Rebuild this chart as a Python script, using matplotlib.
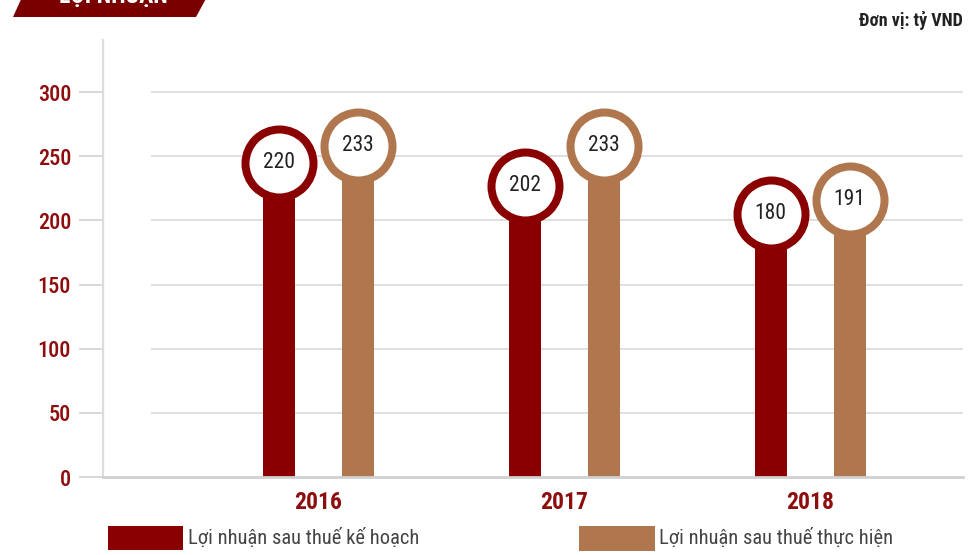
import matplotlib
matplotlib.use("Agg")
import matplotlib.pyplot as plt
from matplotlib.patches import Polygon, Rectangle
import numpy as np

# ---- data ----
years = ["2016", "2017", "2018"]
plan = [220, 202, 180]          # Lợi nhuận sau thuế kế hoạch
actual = [233, 233, 191]        # Lợi nhuận sau thuế thực hiện
yticks = [0, 50, 100, 150, 200, 250, 300]
series_names = ["Lợi nhuận sau thuế kế hoạch", "Lợi nhuận sau thuế thực hiện"]
title_text = "LỢI NHUẬN"
unit_text = "Đơn vị: tỷ VND"

# ---- style ----
RED = "#8A0000"
TAN = "#B0774E"
TICKRED = "#8E0E0E"
GRID = "#D9D9D9"
FAM = ["Roboto Condensed", "Liberation Sans Narrow", "Roboto", "DejaVu Sans"]
plt.rcParams["font.family"] = FAM

W, H, DPI = 980, 555, 100
fig = plt.figure(figsize=(W / DPI, H / DPI), dpi=DPI)
px = 72.0 / DPI  # points per pixel

# main axes in pixel layout
L, R, T, B = 103, 963, 40, 477
ax = fig.add_axes([L / W, (H - B) / H, (R - L) / W, (B - T) / H])

x = np.arange(len(years))
unit = 246.0  # pixels per category
xmin = (L - 318) / unit
xmax = (R - 318) / unit
ax.set_xlim(xmin, xmax)
ax.set_ylim(0, (B - T) / 1.2833)

off = 39.5 / unit
bw = 32 / unit
circ_off = 25  # circle sits on top of bar

# gridlines
grid_start = (151 - 318) / unit
for yv in yticks[1:]:
    ax.hlines(yv, grid_start, xmax, color=GRID, lw=1.2, zorder=0)

for vals, dx, col in [(plan, -off, RED), (actual, off, TAN)]:
    xs = x + dx
    tops = [v + circ_off for v in vals]
    ax.bar(xs, tops, width=bw, color=col, zorder=2)
    ax.scatter(xs, tops, s=(68 * px) ** 2, facecolor="white", edgecolor=col,
               linewidths=8 * px, zorder=3)
    for xi, ti, v in zip(xs, tops, vals):
        ax.text(xi, ti, str(v), ha="center", va="center", fontsize=15.5,
                fontweight="normal", color="#222222", zorder=4)

# spines & ticks
for s in ["top", "right"]:
    ax.spines[s].set_visible(False)
ax.spines["left"].set_color("#DCDCDC")
ax.spines["left"].set_linewidth(1.6)
ax.spines["bottom"].set_color("#D0D0D0")
ax.spines["bottom"].set_linewidth(2.0)

ax.set_yticks(yticks)
ax.set_yticklabels([str(t) for t in yticks])
ax.tick_params(axis="y", length=24 * px, width=1.4, color="#D8D8D8",
               direction="out", pad=8 * px, labelsize=16, labelcolor=TICKRED)
for lab in ax.get_yticklabels():
    lab.set_fontweight("medium")

ax.set_xticks(x)
ax.set_xticklabels(years)
ax.tick_params(axis="x", length=0, pad=14 * px, labelsize=17, labelcolor=TICKRED)
for lab in ax.get_xticklabels():
    lab.set_fontweight("bold")

# overlay in pixel coordinates
ov = fig.add_axes([0, 0, 1, 1], zorder=10)
ov.set_xlim(0, W)
ov.set_ylim(H, 0)
ov.axis("off")
ov.patch.set_alpha(0)

ov.add_patch(Polygon([(23, -5), (208, -5), (196, 17), (13, 17)], closed=True,
                     facecolor="#7A0000", edgecolor="none"))
ov.text(113, 3, title_text, ha="center", va="baseline", fontsize=17,
        fontweight="bold", color="white")

ov.text(963, 20, unit_text, ha="right", va="center", fontsize=13,
        fontweight="bold", color="#222222")

ov.add_patch(Rectangle((108, 526), 75, 24, facecolor=RED, edgecolor="none"))
ov.text(188, 538, series_names[0], ha="left", va="center", fontsize=14.8,
        color="#444444")
ov.add_patch(Rectangle((579, 526), 76, 25, facecolor=TAN, edgecolor="none"))
ov.text(659, 538, series_names[1], ha="left", va="center", fontsize=14.8,
        color="#444444")

fig.savefig("out.png", dpi=DPI)
